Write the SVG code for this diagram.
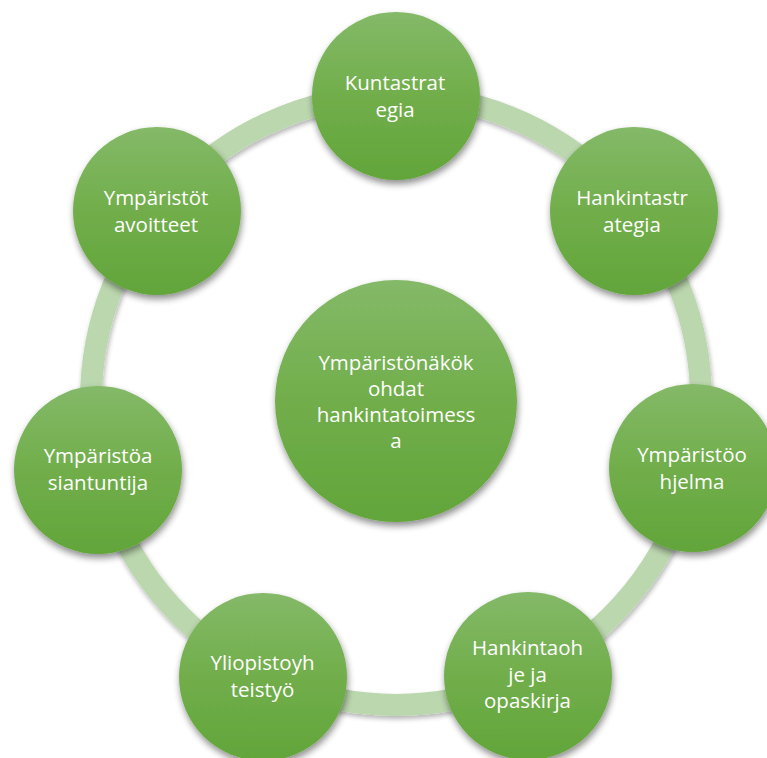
<svg xmlns="http://www.w3.org/2000/svg" width="767" height="758" viewBox="0 0 767 758">
  <defs>
    <linearGradient id="gFill" x1="0" y1="0" x2="0" y2="1">
      <stop offset="0" stop-color="#84b968"/>
      <stop offset="0.5" stop-color="#71ae4b"/>
      <stop offset="1" stop-color="#62a53a"/>
    </linearGradient>
    <filter id="shadow" x="-20%" y="-20%" width="140%" height="150%">
      <feGaussianBlur in="SourceAlpha" stdDeviation="3.5"/>
      <feOffset dx="1" dy="4" result="b"/>
      <feComponentTransfer>
        <feFuncA type="linear" slope="0.45"/>
      </feComponentTransfer>
      <feMerge>
        <feMergeNode/>
        <feMergeNode in="SourceGraphic"/>
      </feMerge>
    </filter>
    <filter id="ringShadow" x="-10%" y="-10%" width="120%" height="120%">
      <feGaussianBlur in="SourceAlpha" stdDeviation="2.5"/>
      <feOffset dx="1" dy="3" result="b"/>
      <feComponentTransfer>
        <feFuncA type="linear" slope="0.3"/>
      </feComponentTransfer>
      <feMerge>
        <feMergeNode/>
        <feMergeNode in="SourceGraphic"/>
      </feMerge>
    </filter>
  </defs>
  <style>
    .node { fill: url(#gFill); filter: url(#shadow); }
    .lbl { font-family: "Open Sans", "Noto Sans", sans-serif; font-size: 20.5px; fill: #ffffff; text-anchor: middle; }
  </style>
  <rect width="767" height="758" fill="#ffffff"/>
  <g id="connectors">
    <circle cx="396" cy="400" r="305" fill="none" stroke="#bbd7ae" stroke-width="22" filter="url(#ringShadow)"/>
  </g>
  <g id="center">
    <circle class="node" cx="396" cy="401" r="121"/>
    <text class="lbl"><tspan x="396" y="370">Ympäristönäkök</tspan><tspan x="396" y="396">ohdat</tspan><tspan x="396" y="422">hankintatoimess</tspan><tspan x="396" y="448">a</tspan></text>
  </g>
  <g id="n1">
    <circle class="node" cx="396" cy="96" r="84"/>
    <text class="lbl"><tspan x="395" y="90">Kuntastrat</tspan><tspan x="395" y="116.5">egia</tspan></text>
  </g>
  <g id="n2">
    <circle class="node" cx="634" cy="211" r="84"/>
    <text class="lbl"><tspan x="632" y="205">Hankintastr</tspan><tspan x="632" y="231.5">ategia</tspan></text>
  </g>
  <g id="n3">
    <circle class="node" cx="693" cy="468" r="84"/>
    <text class="lbl"><tspan x="692" y="462">Ympäristöo</tspan><tspan x="692" y="488.5">hjelma</tspan></text>
  </g>
  <g id="n4">
    <circle class="node" cx="528" cy="676" r="84"/>
    <text class="lbl"><tspan x="527.5" y="655">Hankintaoh</tspan><tspan x="527.5" y="681.5">je ja</tspan><tspan x="527.5" y="708">opaskirja</tspan></text>
  </g>
  <g id="n5">
    <circle class="node" cx="263" cy="677" r="84"/>
    <text class="lbl"><tspan x="262.5" y="670">Yliopistoyh</tspan><tspan x="262.5" y="696.5">teistyö</tspan></text>
  </g>
  <g id="n6">
    <circle class="node" cx="98" cy="470" r="84"/>
    <text class="lbl"><tspan x="98" y="463">Ympäristöa</tspan><tspan x="98" y="489.5">siantuntija</tspan></text>
  </g>
  <g id="n7">
    <circle class="node" cx="157" cy="211" r="84"/>
    <text class="lbl"><tspan x="156" y="205">Ympäristöt</tspan><tspan x="156" y="231.5">avoitteet</tspan></text>
  </g>
</svg>
